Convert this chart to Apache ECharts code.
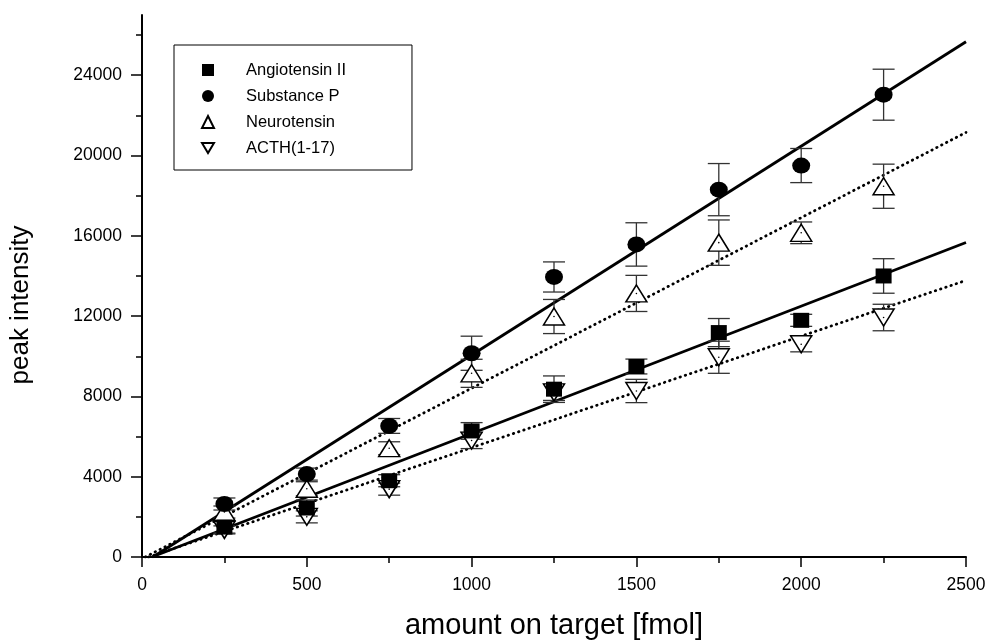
<!DOCTYPE html>
<html>
<head>
<meta charset="utf-8">
<script src="https://cdn.jsdelivr.net/npm/echarts@6/dist/echarts.min.js"></script>
<style>
html,body{margin:0;padding:0;background:#fff;}
#chart{width:994px;height:640px;}
</style>
</head>
<body>
<div id="chart"></div>
<script>
// ---- data ----
const xTicks = [0, 500, 1000, 1500, 2000, 2500];
const yTicks = [0, 4000, 8000, 12000, 16000, 20000, 24000];
const yMinorTicks = [2000, 6000, 10000, 14000, 18000, 22000, 26000];

const amounts = [250, 500, 750, 1000, 1250, 1500, 1750, 2000, 2250];

const angiotensin    = [1490, 2440, 3800, 6280, 8360, 9490, 11180, 11790, 14000];
const angiotensinErr = [300, 400, 300, 415, 660, 370, 700, 300, 860];

const substanceP     = [2640, 4130, 6530, 10150, 13950, 15570, 18300, 19500, 23030];
const substancePErr  = [300, 300, 370, 850, 750, 1080, 1300, 850, 1270];

const neurotensin    = [2240, 3400, 5420, 9150, 11980, 13130, 15660, 16150, 18470];
const neurotensinErr = [300, 350, 320, 700, 850, 900, 1130, 540, 1100];

const acth           = [1350, 2000, 3380, 5800, 8200, 8270, 9950, 10600, 11930];
const acthErr        = [200, 300, 300, 400, 400, 580, 800, 380, 660];

// linear fits (start, end)
const fitAngiotensin = [[30, 0], [2500, 15670]];
const fitSubstanceP  = [[33, 0], [2500, 25670]];
const fitNeurotensin = [[10, 0], [2500, 21150]];
const fitActh        = [[20, 0], [2500, 13780]];

const names = ['Angiotensin II', 'Substance P', 'Neurotensin', 'ACTH(1-17)'];

// ---- helpers ----
const FONT = '"Liberation Sans", Arial, sans-serif';
const pts = (ys) => amounts.map((x, i) => [x, ys[i]]);
const errPts = (ys, es) => amounts.map((x, i) => [x, ys[i], es[i]]);

function errRender(params, api) {
  const x = api.value(0), y = api.value(1), e = api.value(2);
  const t = api.coord([x, y + e]);
  const b = api.coord([x, y - e]);
  const hw = 11;
  const st = { stroke: '#333', lineWidth: 1.3 };
  return {
    type: 'group',
    children: [
      { type: 'line', shape: { x1: t[0], y1: t[1], x2: b[0], y2: b[1] }, style: st },
      { type: 'line', shape: { x1: t[0] - hw, y1: t[1], x2: t[0] + hw, y2: t[1] }, style: st },
      { type: 'line', shape: { x1: b[0] - hw, y1: b[1], x2: b[0] + hw, y2: b[1] }, style: st }
    ]
  };
}
function errSeries(ys, es) {
  return {
    type: 'custom', renderItem: errRender, data: errPts(ys, es),
    xAxisIndex: 0, yAxisIndex: 0, z: 2, silent: true,
    encode: { x: 0, y: 1 }
  };
}
function fitSeries(d, dotted) {
  return {
    type: 'line', data: d, showSymbol: false, symbol: 'none', z: 1, silent: true,
    xAxisIndex: 0, yAxisIndex: 0,
    lineStyle: dotted
      ? { color: '#000', width: 2.8, type: [0.5, 5], cap: 'round', opacity: 1 }
      : { color: '#000', width: 2.8, opacity: 1 }
  };
}
const downTri = 'path://M0,0 L20,0 L10,17 Z';
const plain = (v) => String(v);
const GRID = { left: 142, right: 28, top: 15, bottom: 83, containLabel: false, outerBoundsMode: 'none' };

const chart = echarts.init(document.getElementById('chart'), null, { renderer: 'canvas' });
chart.setOption({
  animation: false,
  backgroundColor: '#fff',
  textStyle: { fontFamily: FONT, color: '#000' },
  grid: [Object.assign({}, GRID), Object.assign({}, GRID)],
  legend: {
    data: names,
    orient: 'vertical',
    left: 174, top: 45,
    padding: [15, 66, 12, 27],
    itemWidth: 12, itemHeight: 12, itemGap: 6,
    borderColor: '#000', borderWidth: 1, borderRadius: 0,
    backgroundColor: '#fff',
    textStyle: { fontFamily: FONT, fontSize: 16.5, color: '#000', lineHeight: 20, padding: [0, 0, 0, 27] },
    selectedMode: false
  },
  xAxis: [{
    gridIndex: 0,
    type: 'value', min: 0, max: 2500, interval: 500,
    name: 'amount on target [fmol]', nameLocation: 'middle', nameGap: 54,
    nameTextStyle: { fontFamily: FONT, fontSize: 29, color: '#000' },
    axisLine: { show: true, onZero: false, lineStyle: { color: '#000', width: 2 } },
    axisTick: { show: true, length: 10, lineStyle: { color: '#000', width: 1.5 } },
    minorTick: { show: true, splitNumber: 2, length: 6, lineStyle: { color: '#000', width: 1.5 } },
    axisLabel: { fontFamily: FONT, fontSize: 17.5, color: '#000', margin: 19, formatter: plain },
    splitLine: { show: false }, minorSplitLine: { show: false }
  }, {
    gridIndex: 1, show: false, type: 'value', min: 0, max: 2500
  }],
  yAxis: [{
    gridIndex: 0,
    type: 'value', min: 0, max: 27000,
    name: 'peak intensity', nameLocation: 'middle', nameGap: 108,
    nameTextStyle: { fontFamily: FONT, fontSize: 26, color: '#000', padding: [0, 38, 0, 0] },
    axisLine: { show: true, onZero: false, lineStyle: { color: '#000', width: 2 } },
    axisTick: { show: true, length: 11, customValues: yTicks, lineStyle: { color: '#000', width: 1.5 } },
    axisLabel: { fontFamily: FONT, fontSize: 17.5, color: '#000', margin: 20, customValues: yTicks, formatter: plain },
    splitLine: { show: false }
  }, {
    gridIndex: 1,
    type: 'value', min: 0, max: 27000, position: 'left',
    axisLine: { show: false, onZero: false },
    axisTick: { show: true, length: 6, customValues: yMinorTicks, lineStyle: { color: '#000', width: 1.5 } },
    axisLabel: { show: false },
    splitLine: { show: false }
  }],
  series: [
    fitSeries(fitSubstanceP, false),
    fitSeries(fitNeurotensin, true),
    fitSeries(fitAngiotensin, false),
    fitSeries(fitActh, true),
    errSeries(acth, acthErr),
    errSeries(neurotensin, neurotensinErr),
    errSeries(angiotensin, angiotensinErr),
    errSeries(substanceP, substancePErr),
    {
      name: 'ACTH(1-17)', type: 'scatter', data: pts(acth), z: 3,
      symbol: downTri, symbolSize: [21, 17],
      itemStyle: { color: '#fff', borderColor: '#000', borderWidth: 1.5, opacity: 1 }
    },
    {
      name: 'Neurotensin', type: 'scatter', data: pts(neurotensin), z: 3,
      symbol: 'triangle', symbolSize: [21, 17],
      itemStyle: { color: '#fff', borderColor: '#000', borderWidth: 1.5, opacity: 1 }
    },
    {
      name: 'Angiotensin II', type: 'scatter', data: pts(angiotensin), z: 3,
      symbol: 'rect', symbolSize: [16, 15],
      itemStyle: { color: '#000', opacity: 1 }
    },
    {
      name: 'Substance P', type: 'scatter', data: pts(substanceP), z: 3,
      symbol: 'circle', symbolSize: [18, 16],
      itemStyle: { color: '#000', opacity: 1 }
    },
    {
      type: 'scatter', data: pts(neurotensin).concat(pts(acth)), z: 4, silent: true,
      symbol: 'circle', symbolSize: 1.6, itemStyle: { color: '#000', opacity: 1 }
    }
  ]
});
</script>
</body>
</html>
